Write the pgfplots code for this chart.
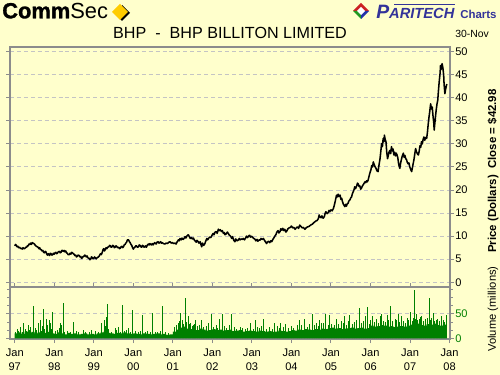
\documentclass[border=0pt]{standalone}
\usepackage{fontspec}
\setmainfont{Liberation Sans}
\newfontfamily\heavy[BoldFeatures={FakeBold=1.3}]{Liberation Sans}
\usepackage{pgfplots}
\pgfplotsset{compat=1.18}
\definecolor{bgc}{HTML}{FFFFCC}
\definecolor{axisgray}{HTML}{8C8C8C}
\definecolor{gridgray}{HTML}{C4C4C4}
\definecolor{vgreen}{HTML}{008000}
\definecolor{pblue}{HTML}{333399}
\definecolor{dyellow}{HTML}{FFCC00}
\definecolor{lred}{HTML}{CC2222}
\definecolor{lgreen}{HTML}{229922}
\definecolor{lblue}{HTML}{2233AA}
\begin{document}
\begin{tikzpicture}
\fill[bgc] (0,0) rectangle (375pt,281.25pt);
\useasboundingbox (0,0) rectangle (375pt,281.25pt);
\begin{scope}[x=0.75pt, y=-0.75pt, shift={(0pt,281.25pt)}]
% ---- header
\node[anchor=base west, inner sep=0, font=\fontsize{16.4}{18}\selectfont] at (2,18.3) {{\heavy\bfseries Comm}Sec};
\fill[black] (122,5) -- (130,13) -- (122,21) -- (120,19) -- cycle;
\fill[dyellow] (120,4) -- (128,12) -- (120,20) -- (112,12) -- cycle;
% paritech icon
\fill[lred] (353,11) -- (361,3) -- (369,11) -- cycle;
\fill[lgreen] (353,11) -- (361,11) -- (361,19) -- cycle;
\fill[lblue] (361,11) -- (369,11) -- (361,19) -- cycle;
\fill[white] (357,11) -- (361,7) -- (365,11) -- (361,15) -- cycle;
\node[anchor=base west, inner sep=0, text=pblue, font=\bfseries\itshape\fontsize{14.5}{16}\selectfont] at (376,18.5) {P{\fontsize{11}{12}\selectfont ARITECH}};
\draw[pblue, line width=0.9pt] (394,4.8) -- (455,4.8);
\node[anchor=base west, inner sep=0, text=pblue, font=\bfseries\fontsize{8.6}{10}\selectfont] at (460,18.8) {Charts};
\node[anchor=base, inner sep=0, font=\fontsize{12.1}{14}\selectfont] at (230,38.3) {BHP \ - \ BHP BILLITON LIMITED};
\node[anchor=base west, inner sep=0, font=\fontsize{7.8}{9}\selectfont] at (455,37.5) {30-Nov};
\node[rotate=90, inner sep=0, font=\bfseries\fontsize{8.6}{10}\selectfont] at (493,171) {Price (Dollars)\ \ Close = \$42.98};
\node[rotate=90, inner sep=0, font=\fontsize{8.4}{10}\selectfont] at (493,309) {Volume (millions)};
\end{scope}
% ---- price panel
\begin{axis}[at={(7.5pt,66pt)}, anchor=south west, scale only axis,
  width=330pt, height=180pt,
  xmin=1996.88, xmax=2008.01, ymin=-1.02, ymax=51.02,
  axis background/.style={fill=bgc},
  axis line style={draw=axisgray, line width=1.5pt},
  xtick=\empty,
  ytick={0,5,...,50},
  yticklabel pos=right,
  tick align=outside, major tick length=3pt,
  tick style={draw=axisgray, line width=0.75pt},
  ymajorgrids, grid style={draw=gridgray, line width=0.75pt, dash pattern=on 3pt off 2.2pt},
  yticklabel style={font=\fontsize{8.3}{10}\selectfont, inner sep=0.8pt},
  /pgf/number format/assume math mode=true]
\addplot[black, line width=1.15pt, line join=round] coordinates {
(1997.00,7.9)(1997.02,8.2)(1997.04,8.0)(1997.06,7.7)(1997.08,7.8)(1997.10,7.5)(1997.12,7.6)(1997.15,7.3)(1997.17,7.4)(1997.19,7.2)(1997.21,7.5)(1997.23,7.3)(1997.25,7.3)(1997.28,7.6)(1997.30,7.6)(1997.32,7.9)(1997.34,7.9)(1997.36,8.3)(1997.38,8.2)(1997.40,8.5)(1997.42,8.2)(1997.44,8.6)(1997.46,8.5)(1997.48,8.4)(1997.50,8.3)(1997.52,8.0)(1997.55,7.8)(1997.57,7.7)(1997.59,7.6)(1997.61,7.3)(1997.63,7.5)(1997.65,7.1)(1997.67,7.1)(1997.69,6.8)(1997.71,6.9)(1997.73,6.5)(1997.75,6.4)(1997.77,6.7)(1997.79,6.6)(1997.81,6.1)(1997.83,5.9)(1997.85,6.2)(1997.88,5.8)(1997.90,6.3)(1997.92,6.2)(1997.94,5.9)(1997.96,6.0)(1997.98,6.3)(1998.00,6.1)(1998.02,6.4)(1998.04,6.5)(1998.06,6.2)(1998.08,6.3)(1998.10,6.6)(1998.13,6.7)(1998.15,6.4)(1998.17,6.5)(1998.19,6.9)(1998.21,6.9)(1998.23,6.7)(1998.25,6.9)(1998.27,6.6)(1998.29,6.8)(1998.31,6.4)(1998.33,6.3)(1998.35,6.0)(1998.38,6.0)(1998.40,6.3)(1998.42,6.1)(1998.44,6.5)(1998.46,6.4)(1998.48,6.2)(1998.50,6.1)(1998.52,5.8)(1998.54,5.9)(1998.56,5.5)(1998.58,5.6)(1998.60,5.9)(1998.63,5.8)(1998.65,5.5)(1998.67,5.6)(1998.69,5.2)(1998.71,5.3)(1998.73,5.6)(1998.75,5.6)(1998.77,5.9)(1998.79,5.8)(1998.81,5.5)(1998.83,5.7)(1998.85,5.3)(1998.88,5.2)(1998.90,4.9)(1998.92,5.0)(1998.94,5.5)(1998.96,5.4)(1998.98,5.1)(1999.00,5.2)(1999.02,5.5)(1999.04,5.3)(1999.06,5.1)(1999.08,5.3)(1999.10,5.4)(1999.13,5.6)(1999.15,5.9)(1999.17,6.2)(1999.19,6.0)(1999.21,6.4)(1999.23,7.0)(1999.25,7.3)(1999.27,6.8)(1999.29,7.1)(1999.31,7.5)(1999.33,7.3)(1999.35,7.6)(1999.38,7.7)(1999.40,8.0)(1999.42,7.9)(1999.44,7.6)(1999.46,7.7)(1999.48,8.0)(1999.50,7.9)(1999.52,7.5)(1999.54,7.6)(1999.56,7.9)(1999.58,7.8)(1999.60,7.5)(1999.63,7.6)(1999.65,7.3)(1999.67,7.4)(1999.69,7.7)(1999.71,7.8)(1999.73,7.5)(1999.75,7.7)(1999.77,8.1)(1999.79,8.2)(1999.81,8.5)(1999.83,8.7)(1999.85,9.2)(1999.88,9.2)(1999.90,8.8)(1999.92,8.6)(1999.94,8.2)(1999.96,8.0)(1999.98,7.5)(2000.00,7.2)(2000.02,7.5)(2000.04,7.6)(2000.06,7.9)(2000.08,7.9)(2000.10,7.6)(2000.13,7.7)(2000.15,8.1)(2000.17,8.0)(2000.19,7.7)(2000.21,7.6)(2000.23,8.0)(2000.25,7.9)(2000.27,7.6)(2000.29,7.7)(2000.31,7.9)(2000.33,7.6)(2000.35,8.0)(2000.38,8.3)(2000.40,8.1)(2000.42,8.4)(2000.44,8.2)(2000.46,8.1)(2000.48,8.4)(2000.50,8.1)(2000.52,8.4)(2000.54,8.6)(2000.56,8.4)(2000.58,8.3)(2000.60,8.7)(2000.63,8.8)(2000.65,8.5)(2000.67,8.6)(2000.69,8.8)(2000.71,8.5)(2000.73,8.6)(2000.76,8.4)(2000.80,8.3)(2000.83,8.5)(2000.86,8.4)(2000.90,8.7)(2000.93,8.8)(2000.96,8.5)(2000.99,8.6)(2001.02,8.4)(2001.05,8.5)(2001.08,8.3)(2001.11,8.8)(2001.14,9.2)(2001.16,9.0)(2001.18,9.5)(2001.21,9.2)(2001.23,9.6)(2001.26,9.3)(2001.28,9.5)(2001.31,9.9)(2001.33,9.6)(2001.36,10.1)(2001.39,10.3)(2001.41,10.0)(2001.44,9.5)(2001.47,9.7)(2001.49,9.4)(2001.52,9.6)(2001.54,9.2)(2001.56,9.0)(2001.59,8.7)(2001.61,9.1)(2001.64,8.8)(2001.66,8.5)(2001.69,8.8)(2001.71,8.2)(2001.73,7.7)(2001.75,8.5)(2001.78,8.0)(2001.81,8.4)(2001.83,8.9)(2001.86,9.5)(2001.88,9.2)(2001.90,9.5)(2001.93,9.8)(2001.96,9.7)(2001.99,10.2)(2002.02,10.6)(2002.04,10.3)(2002.07,10.9)(2002.10,11.0)(2002.12,10.6)(2002.15,11.5)(2002.17,11.2)(2002.20,11.4)(2002.23,11.0)(2002.25,11.2)(2002.28,10.6)(2002.30,10.8)(2002.32,10.3)(2002.35,10.5)(2002.38,10.9)(2002.40,10.6)(2002.43,10.2)(2002.46,10.0)(2002.49,9.5)(2002.51,9.9)(2002.54,9.1)(2002.57,8.8)(2002.59,9.4)(2002.62,9.0)(2002.65,9.1)(2002.68,9.5)(2002.70,9.2)(2002.73,9.4)(2002.76,9.3)(2002.78,9.5)(2002.81,9.2)(2002.84,9.6)(2002.86,10.0)(2002.89,9.7)(2002.91,10.0)(2002.94,10.2)(2002.96,9.8)(2002.99,10.0)(2003.02,9.7)(2003.05,9.5)(2003.08,9.3)(2003.10,9.0)(2003.13,9.3)(2003.15,8.9)(2003.18,9.2)(2003.20,9.1)(2003.23,9.5)(2003.26,9.3)(2003.29,9.5)(2003.31,9.2)(2003.34,8.8)(2003.37,8.4)(2003.39,8.7)(2003.42,8.9)(2003.45,8.6)(2003.48,9.0)(2003.50,8.8)(2003.53,9.3)(2003.56,9.7)(2003.58,10.0)(2003.61,10.4)(2003.63,10.9)(2003.66,11.2)(2003.68,10.7)(2003.71,11.0)(2003.73,11.6)(2003.76,11.3)(2003.78,11.7)(2003.81,11.2)(2003.83,11.5)(2003.86,10.9)(2003.88,11.1)(2003.91,11.6)(2003.94,11.8)(2003.97,11.9)(2004.00,12.2)(2004.03,11.8)(2004.06,11.9)(2004.09,11.5)(2004.12,11.8)(2004.15,12.0)(2004.18,11.7)(2004.21,12.4)(2004.24,12.1)(2004.27,11.8)(2004.30,11.9)(2004.34,11.5)(2004.37,11.8)(2004.40,12.0)(2004.44,12.1)(2004.47,12.3)(2004.50,12.5)(2004.53,12.6)(2004.56,12.9)(2004.59,13.1)(2004.62,13.3)(2004.65,13.4)(2004.68,13.8)(2004.70,14.6)(2004.72,14.2)(2004.75,14.0)(2004.77,14.4)(2004.80,13.9)(2004.83,14.2)(2004.85,14.9)(2004.87,15.3)(2004.90,14.9)(2004.93,15.1)(2004.95,15.6)(2004.97,15.3)(2005.00,15.7)(2005.03,15.5)(2005.06,16.0)(2005.08,16.6)(2005.10,17.3)(2005.12,18.1)(2005.14,18.9)(2005.16,18.5)(2005.18,19.1)(2005.20,18.6)(2005.23,18.9)(2005.25,18.0)(2005.27,18.2)(2005.29,17.5)(2005.31,17.0)(2005.33,16.7)(2005.35,16.4)(2005.37,16.9)(2005.39,16.5)(2005.41,17.0)(2005.43,17.1)(2005.45,17.6)(2005.48,17.9)(2005.50,18.3)(2005.52,18.5)(2005.54,19.2)(2005.56,19.6)(2005.58,20.0)(2005.60,20.7)(2005.62,20.3)(2005.65,20.9)(2005.67,21.5)(2005.69,21.3)(2005.71,20.8)(2005.73,20.9)(2005.75,20.2)(2005.77,20.4)(2005.79,20.8)(2005.81,21.1)(2005.84,21.5)(2005.86,21.8)(2005.88,21.6)(2005.90,22.0)(2005.92,21.8)(2005.94,22.2)(2005.96,22.9)(2005.98,23.6)(2006.01,24.4)(2006.03,25.3)(2006.05,25.0)(2006.07,26.1)(2006.09,25.6)(2006.11,25.1)(2006.14,24.7)(2006.16,24.2)(2006.19,24.0)(2006.21,25.2)(2006.24,26.8)(2006.26,28.4)(2006.28,30.1)(2006.30,29.4)(2006.32,31.2)(2006.34,30.5)(2006.35,31.9)(2006.37,31.0)(2006.39,30.5)(2006.41,28.2)(2006.43,26.8)(2006.45,27.5)(2006.47,28.3)(2006.49,28.6)(2006.51,27.9)(2006.53,29.4)(2006.55,28.5)(2006.57,28.9)(2006.59,27.6)(2006.61,28.2)(2006.63,27.4)(2006.65,28.0)(2006.67,27.6)(2006.69,27.0)(2006.71,25.7)(2006.73,25.0)(2006.74,24.7)(2006.76,25.8)(2006.78,26.6)(2006.80,27.3)(2006.83,28.0)(2006.85,27.1)(2006.87,27.5)(2006.89,26.8)(2006.91,26.6)(2006.93,26.0)(2006.95,25.7)(2006.97,25.9)(2006.99,25.1)(2007.01,24.6)(2007.03,24.2)(2007.04,24.0)(2007.06,24.9)(2007.08,25.8)(2007.10,26.7)(2007.12,27.9)(2007.14,29.0)(2007.16,28.3)(2007.19,27.8)(2007.21,27.6)(2007.23,28.4)(2007.25,29.6)(2007.27,29.3)(2007.29,30.5)(2007.31,30.0)(2007.33,31.0)(2007.35,31.5)(2007.37,30.8)(2007.40,31.4)(2007.42,31.2)(2007.44,32.6)(2007.46,34.4)(2007.48,35.9)(2007.50,37.2)(2007.52,38.7)(2007.54,37.6)(2007.56,38.0)(2007.58,36.1)(2007.60,34.5)(2007.61,33.0)(2007.63,34.8)(2007.65,36.5)(2007.66,37.3)(2007.68,38.6)(2007.70,39.5)(2007.72,41.8)(2007.74,43.8)(2007.76,45.4)(2007.77,47.0)(2007.79,46.2)(2007.81,47.4)(2007.83,46.5)(2007.85,44.9)(2007.86,43.0)(2007.88,40.9)(2007.90,41.9)(2007.92,42.7)(2007.93,42.98)
};
\end{axis}
% ---- volume panel
\begin{axis}[at={(7.5pt,27pt)}, anchor=south west, scale only axis,
  width=330pt, height=39pt,
  xmin=1996.88, xmax=2008.01, ymin=-1.4, ymax=105.5,
  axis background/.style={fill=bgc},
  axis line style={draw=axisgray, line width=1.5pt},
  xtick={1997,...,2008},
  xticklabels={{Jan\\97},{Jan\\98},{Jan\\99},{Jan\\00},{Jan\\01},{Jan\\02},{Jan\\03},{Jan\\04},{Jan\\05},{Jan\\06},{Jan\\07},{Jan\\08}},
  xticklabel style={align=center, font=\fontsize{8.3}{10.5}\selectfont, inner sep=1pt, yshift=-3pt},
  ytick={0,50},
  minor ytick={16.7,33.3,66.7,83.3,100},
  yticklabel pos=right,
  tick align=outside, major tick length=3pt, minor tick length=2.2pt,
  tick style={draw=axisgray, line width=0.75pt},
  ymajorgrids, grid style={draw=gridgray, line width=0.75pt, dash pattern=on 3pt off 2.2pt},
  yticklabel style={font=\fontsize{8.3}{10}\selectfont, text=vgreen, inner sep=0.8pt},
  /pgf/number format/assume math mode=true]
\addplot[const plot, fill=vgreen, draw=none] coordinates {
(1997.00,10)(1997.08,12)(1997.17,9)(1997.25,14)(1997.33,11)(1997.42,13)(1997.50,10)(1997.58,12)(1997.67,15)(1997.75,11)(1997.83,13)(1997.92,10)
(1998.00,9)(1998.08,12)(1998.17,10)(1998.25,8)(1998.33,11)(1998.42,9)(1998.50,10)(1998.58,8)(1998.67,9)(1998.75,10)(1998.83,8)(1998.92,9)
(1999.00,8)(1999.08,10)(1999.17,12)(1999.25,14)(1999.33,11)(1999.42,10)(1999.50,9)(1999.58,11)(1999.67,10)(1999.75,12)(1999.83,10)(1999.92,9)
(2000.00,10)(2000.08,9)(2000.17,8)(2000.25,10)(2000.33,9)(2000.42,8)(2000.50,9)(2000.58,10)(2000.67,8)(2000.75,9)(2000.83,7)(2000.92,8)
(2001.00,14)(2001.08,18)(2001.17,22)(2001.25,24)(2001.33,20)(2001.42,19)(2001.50,18)(2001.58,17)(2001.67,20)(2001.75,18)(2001.83,16)(2001.92,17)
(2002.00,19)(2002.08,17)(2002.17,18)(2002.25,16)(2002.33,17)(2002.42,18)(2002.50,15)(2002.58,16)(2002.67,17)(2002.75,14)(2002.83,15)(2002.92,16)
(2003.00,15)(2003.08,14)(2003.17,16)(2003.25,15)(2003.33,14)(2003.42,15)(2003.50,13)(2003.58,14)(2003.67,16)(2003.75,15)(2003.83,14)(2003.92,15)
(2004.00,17)(2004.08,16)(2004.17,18)(2004.25,17)(2004.33,19)(2004.42,18)(2004.50,17)(2004.58,19)(2004.67,18)(2004.75,20)(2004.83,19)(2004.92,21)
(2005.00,22)(2005.08,20)(2005.17,21)(2005.25,19)(2005.33,20)(2005.42,21)(2005.50,22)(2005.58,20)(2005.67,21)(2005.75,22)(2005.83,20)(2005.92,21)
(2006.00,26)(2006.08,24)(2006.17,25)(2006.25,27)(2006.33,26)(2006.42,24)(2006.50,25)(2006.58,23)(2006.67,24)(2006.75,25)(2006.83,24)(2006.92,26)
(2007.00,28)(2007.08,27)(2007.17,30)(2007.25,27)(2007.33,26)(2007.42,29)(2007.50,28)(2007.58,30)(2007.67,27)(2007.75,26)(2007.83,28)(2007.93,27)
} \closedcycle;
\addplot[ycomb, vgreen, line width=0.75pt, mark=none] coordinates {
(1997.07,19)(1997.15,24)(1997.22,31)(1997.34,28)(1997.40,23)(1997.47,67)(1997.60,31)(1997.66,38)(1997.72,61)(1997.81,40)(1997.87,38)(1997.91,31)(1997.96,54)
(1998.15,31)(1998.18,28)(1998.23,73)(1998.48,34)(1998.73,17)(1998.95,17)
(1999.20,31)(1999.26,38)(1999.31,44)(1999.34,71)(1999.54,21)(1999.62,24)(1999.72,69)(1999.87,21)(1999.98,59)
(2000.23,48)(2000.49,52)(2000.74,66)
(2001.14,31)(2001.20,52)(2001.25,38)(2001.31,82)(2001.39,45)(2001.45,31)(2001.52,27)(2001.58,38)(2001.73,38)(2001.98,51)
(2002.19,39)(2002.26,50)(2002.48,50)(2002.97,31)
(2003.08,38)(2003.30,39)(2003.58,32)(2003.73,31)(2003.86,29)
(2004.15,27)(2004.21,38)(2004.33,39)(2004.52,51)(2004.64,31)(2004.72,38)(2004.80,32)(2004.87,50)(2004.97,48)
(2005.14,39)(2005.27,36)(2005.35,45)(2005.48,48)(2005.65,38)(2005.71,62)(2005.86,45)(2005.92,64)
(2006.05,46)(2006.24,45)(2006.28,49)(2006.42,48)(2006.51,67)(2006.66,38)(2006.70,50)(2006.79,46)(2006.93,41)
(2007.00,55)(2007.11,99)(2007.16,51)(2007.23,39)(2007.29,45)(2007.43,41)(2007.48,82)(2007.58,52)(2007.67,38)(2007.80,45)(2007.91,48)
(1997.03,14)(1997.10,16)(1997.19,12)(1997.26,20)(1997.30,15)(1997.37,18)(1997.44,13)(1997.52,22)(1997.56,17)(1997.69,25)(1997.76,19)(1997.84,27)(1997.94,20)
(1998.03,15)(1998.08,18)(1998.12,22)(1998.27,14)(1998.33,16)(1998.40,13)(1998.55,15)(1998.62,12)(1998.80,14)(1998.88,12)
(1999.05,16)(1999.12,14)(1999.29,25)(1999.38,20)(1999.45,14)(1999.58,17)(1999.67,13)(1999.78,15)(1999.83,18)(1999.92,14)
(2000.05,16)(2000.12,12)(2000.18,15)(2000.30,13)(2000.37,16)(2000.44,12)(2000.56,14)(2000.62,12)(2000.68,15)(2000.82,13)(2000.90,11)
(2001.04,24)(2001.09,28)(2001.17,35)(2001.28,30)(2001.35,33)(2001.42,29)(2001.49,26)(2001.55,30)(2001.62,25)(2001.68,28)(2001.77,24)(2001.84,26)(2001.90,31)
(2002.04,24)(2002.10,28)(2002.14,22)(2002.30,25)(2002.36,21)(2002.42,27)(2002.55,23)(2002.62,20)(2002.70,24)(2002.76,21)(2002.84,19)(2002.90,22)
(2003.03,20)(2003.14,24)(2003.20,21)(2003.25,26)(2003.36,20)(2003.44,23)(2003.51,19)(2003.64,25)(2003.70,22)(2003.80,24)(2003.93,21)
(2004.00,25)(2004.06,22)(2004.26,28)(2004.40,24)(2004.45,30)(2004.57,27)(2004.68,25)(2004.76,32)(2004.93,28)
(2005.02,30)(2005.08,27)(2005.20,29)(2005.32,32)(2005.40,28)(2005.44,35)(2005.55,30)(2005.60,33)(2005.78,31)(2005.82,36)(2005.97,30)
(2006.01,38)(2006.10,34)(2006.15,40)(2006.20,32)(2006.33,36)(2006.38,33)(2006.46,37)(2006.56,35)(2006.62,39)(2006.74,34)(2006.84,36)(2006.88,32)(2006.97,38)
(2007.05,36)(2007.08,42)(2007.14,40)(2007.19,37)(2007.26,44)(2007.33,36)(2007.38,40)(2007.52,38)(2007.55,42)(2007.62,36)(2007.70,40)(2007.74,35)(2007.84,38)(2007.88,33)
};
\end{axis}
\end{tikzpicture}
\end{document}
